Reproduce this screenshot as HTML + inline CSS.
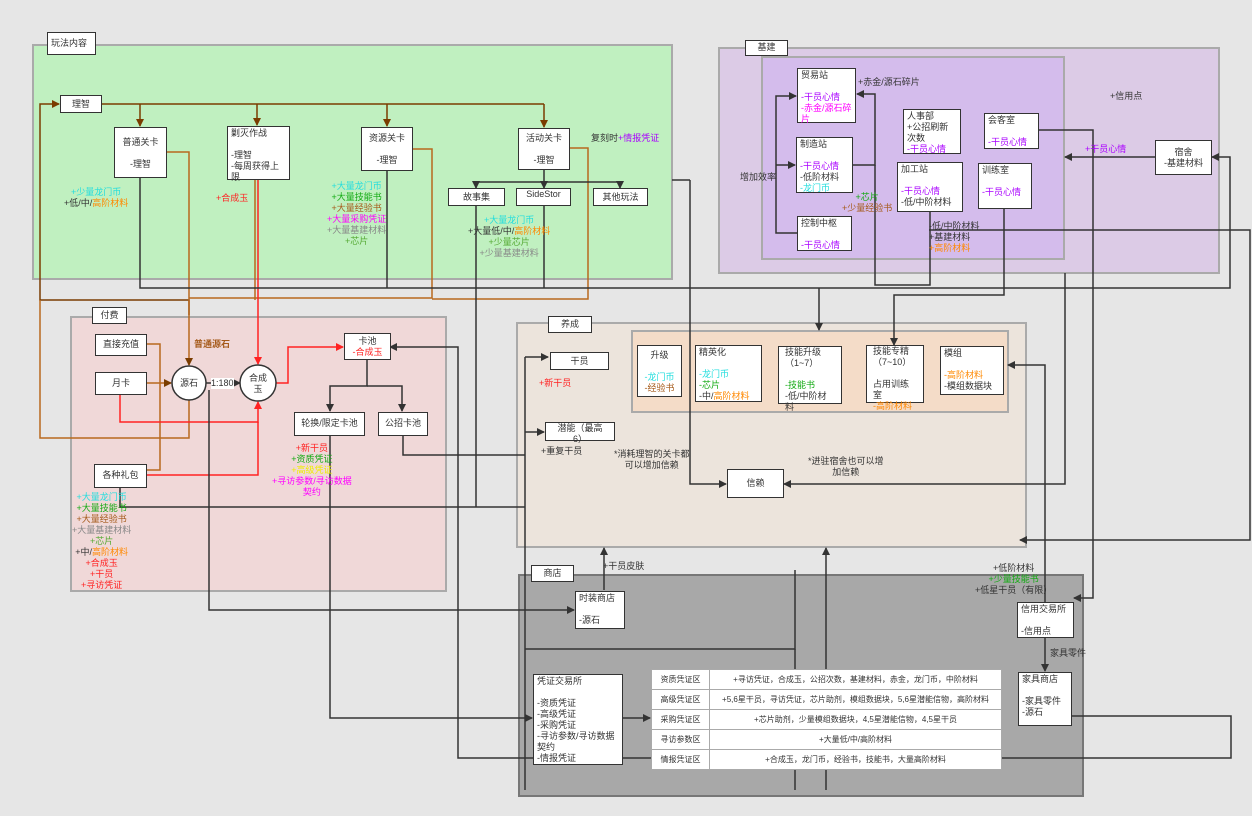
<!DOCTYPE html>
<html><head><meta charset="utf-8"><style>
body{margin:0;width:1252px;height:816px;background:#e6e6e6;position:relative;overflow:hidden;font-family:"Liberation Sans","Noto Sans CJK SC",sans-serif;font-size:9px;color:#333}
.r{position:absolute;border:2px solid #aaa;box-sizing:border-box}
.b{position:absolute;background:#fff;border:1.5px solid #333;box-sizing:border-box;padding:1px 3px;line-height:11px;font-size:9px}
.c{text-align:center}
.t{position:absolute;line-height:11px;font-size:9px;white-space:nowrap}
.cy{color:#2dd}.or{color:#f80}.gr{color:#1a1}.br{color:#a55a1a}.pu{color:#a0f}.pk{color:#f0f}.rd{color:#f22}.gy{color:#888}.yl{color:#ee0}.ol{color:#5a3}
svg{position:absolute;left:0;top:0}
table{position:absolute;left:651px;top:669px;width:351px;border-collapse:collapse;background:#fff}
td{border:1px solid #aaa;height:19px;padding:0;font-size:8px;text-align:center}
</style></head><body>
<div class="r" style="left:32px;top:44px;width:641px;height:236px;background:#c0f0c0"></div>
<div class="r" style="left:718px;top:47px;width:502px;height:227px;background:#dccbe6"></div>
<div class="r" style="left:761px;top:56px;width:304px;height:204px;background:#d4bcec"></div>
<div class="r" style="left:70px;top:316px;width:377px;height:276px;background:#f0d8d8"></div>
<div class="r" style="left:516px;top:322px;width:511px;height:226px;background:#ece4dc"></div>
<div class="r" style="left:631px;top:330px;width:378px;height:83px;background:#f4dcc8"></div>
<div class="r" style="left:518px;top:574px;width:566px;height:223px;background:#a8a8a8;border-color:#777"></div>

<svg width="1252" height="816" fill="none" stroke-width="1.5">
<defs>
<marker id="a" markerWidth="8" markerHeight="8" refX="7" refY="4" orient="auto" markerUnits="userSpaceOnUse"><path d="M0,0L8,4L0,8z" fill="#333"/></marker>
<marker id="ab" markerWidth="8" markerHeight="8" refX="7" refY="4" orient="auto" markerUnits="userSpaceOnUse"><path d="M0,0L8,4L0,8z" fill="#7a3c00"/></marker>
<marker id="ar" markerWidth="8" markerHeight="8" refX="7" refY="4" orient="auto" markerUnits="userSpaceOnUse"><path d="M0,0L8,4L0,8z" fill="#f22"/></marker>
</defs>
<g stroke="#7a3c00">
<path d="M101,104H544" /><path d="M140,104V126" marker-end="url(#ab)"/><path d="M257,104V125" marker-end="url(#ab)"/><path d="M387,104V126" marker-end="url(#ab)"/><path d="M544,104V127" marker-end="url(#ab)"/>
<path d="M189,315V300H40V104H59" marker-end="url(#ab)"/>
</g>
<g stroke="#b8691e">
<path d="M166,152H189V365" marker-end="url(#ab)"/><path d="M289,152H255V300"/><path d="M413,149H432V298H189"/><path d="M569,148H588V299H432"/>
<path d="M40,300V438H189V400"/><path d="M146,344H160V470H146"/><path d="M146,383H171" marker-end="url(#ab)"/>
</g>
<g stroke="#f22">
<path d="M258,179V364" marker-end="url(#ar)"/><path d="M276,383H288V347H343" marker-end="url(#ar)"/>
<path d="M120,394V422H258V402" marker-end="url(#ar)"/><path d="M146,475H258V422"/>
</g>
<g stroke="#333">
<path d="M206,383H240" marker-end="url(#a)"/>
<path d="M367,359V386H330V411" marker-end="url(#a)"/><path d="M367,386H402V411" marker-end="url(#a)"/>
<path d="M140,177V288H1230V157H1212" marker-end="url(#a)"/><path d="M387,170V288"/><path d="M544,169V182H476V188" marker-end="url(#a)"/><path d="M544,182H620V188" marker-end="url(#a)"/><path d="M544,182V188" marker-end="url(#a)"/>
<path d="M476,205V507M544,205V288"/>
<path d="M120,487V507H525"/>
<path d="M1045,725V716H1231V758H458V347H390" marker-end="url(#a)"/>
<path d="M209,390V610H574" marker-end="url(#a)"/>
<path d="M330,435V718H532" marker-end="url(#a)"/><path d="M622,718H650" marker-end="url(#a)"/>
<path d="M403,435V455H525"/>
<path d="M690,180H672"/><path d="M690,180V484H726" marker-end="url(#a)"/>
<path d="M1065,273V484H784" marker-end="url(#a)"/>
<path d="M819,288V330" marker-end="url(#a)"/>
<path d="M875,165V285H930V211"/>
<path d="M1004,208V295H894V345" marker-end="url(#a)"/>
<path d="M1028,130H1093V598H1074" marker-end="url(#a)"/>
<path d="M1045,602V365H1008" marker-end="url(#a)"/>
<path d="M1155,157H1065" marker-end="url(#a)"/>
<path d="M852,165H875V94H857" marker-end="url(#a)"/>
<path d="M797,233H776V96H796" marker-end="url(#a)"/><path d="M776,165H795" marker-end="url(#a)"/>
<path d="M929,230H1250V540H1020" marker-end="url(#a)"/>
<path d="M1045,637V671" marker-end="url(#a)"/>
<path d="M604,590V548" marker-end="url(#a)"/>
<path d="M525,357V790"/><path d="M525,357H548" marker-end="url(#a)"/><path d="M525,432H544" marker-end="url(#a)"/>
<path d="M525,649H795V570"/><path d="M795,649V790"/>
<path d="M826,790V548" marker-end="url(#a)"/>
</g>
<circle cx="189" cy="383" r="17" fill="#fff" stroke="#333"/>
<circle cx="258" cy="383" r="18" fill="#fff" stroke="#333"/>
</svg>

<div class="b" style="left:47px;top:32px;width:49px;height:23px;padding-top:5px">玩法内容</div>
<div class="b c" style="left:60px;top:95px;width:42px;height:18px;padding-top:3px">理智</div>
<div class="b c" style="left:114px;top:127px;width:53px;height:51px;padding-top:9px">普通关卡<br><br>-理智</div>
<div class="b" style="left:227px;top:126px;width:63px;height:54px">剿灭作战<br><br>-理智<br>-每周获得上限</div>
<div class="b c" style="left:361px;top:127px;width:52px;height:44px;padding-top:5px">资源关卡<br><br>-理智</div>
<div class="b c" style="left:518px;top:128px;width:52px;height:42px;padding-top:4px">活动关卡<br><br>-理智</div>
<div class="b c" style="left:448px;top:188px;width:57px;height:18px;padding-top:3px">故事集</div>
<div class="b c" style="left:516px;top:188px;width:55px;height:18px;padding:0">SideStor</div>
<div class="b c" style="left:593px;top:188px;width:55px;height:18px;padding-top:3px">其他玩法</div>
<div class="t c" style="left:64px;top:187px"><span class="cy">+少量龙门币</span><br>+低/中/<span class="or">高阶材料</span></div>
<div class="t rd" style="left:216px;top:193px">+合成玉</div>
<div class="t c" style="left:327px;top:181px"><span class="cy">+大量龙门币</span><br><span class="gr">+大量技能书</span><br><span class="br">+大量经验书</span><br><span class="pk">+大量采购凭证</span><br><span class="gy">+大量基建材料</span><br><span class="ol">+芯片</span></div>
<div class="t c" style="left:468px;top:215px"><span class="cy">+大量龙门币</span><br>+大量低/中/<span class="or">高阶材料</span><br><span class="ol">+少量芯片</span><br><span class="gy">+少量基建材料</span></div>
<div class="t" style="left:591px;top:133px">复刻时<span class="pu">+情报凭证</span></div>

<div class="b c" style="left:745px;top:40px;width:43px;height:16px;padding:1px">基建</div>
<div class="b" style="left:797px;top:68px;width:59px;height:55px">贸易站<br><br><span class="pu">-干员心情</span><br><span class="pk">-赤金/源石碎片</span></div>
<div class="b" style="left:796px;top:137px;width:57px;height:56px">制造站<br><br><span class="pu">-干员心情</span><br>-低阶材料<br><span class="cy">-龙门币</span></div>
<div class="b" style="left:797px;top:216px;width:55px;height:35px">控制中枢<br><br><span class="pu">-干员心情</span></div>
<div class="b" style="left:903px;top:109px;width:58px;height:45px">人事部<br>+公招刷新次数<br><span class="pu">-干员心情</span></div>
<div class="b" style="left:984px;top:113px;width:55px;height:36px">会客室<br><br><span class="pu">-干员心情</span></div>
<div class="b" style="left:897px;top:162px;width:66px;height:50px">加工站<br><br><span class="pu">-干员心情</span><br>-低/中阶材料</div>
<div class="b" style="left:978px;top:163px;width:54px;height:46px">训练室<br><br><span class="pu">-干员心情</span></div>
<div class="b c" style="left:1155px;top:140px;width:57px;height:35px;padding-top:6px">宿舍<br>-基建材料</div>
<div class="t" style="left:858px;top:77px">+赤金/源石碎片</div>
<div class="t" style="left:1110px;top:91px">+信用点</div>
<div class="t pu" style="left:1085px;top:144px">+干员心情</div>
<div class="t" style="left:740px;top:172px">增加效率</div>
<div class="t c" style="left:842px;top:192px"><span class="gr">+芯片</span><br><span class="br">+少量经验书</span></div>
<div class="t" style="left:929px;top:221px">-低/中阶材料<br>+基建材料<br><span class="or">+高阶材料</span></div>

<div class="b c" style="left:92px;top:307px;width:35px;height:17px;padding:2px">付费</div>
<div class="b c" style="left:95px;top:334px;width:52px;height:22px;padding-top:4px">直接充值</div>
<div class="b c" style="left:95px;top:372px;width:52px;height:23px;padding-top:5px">月卡</div>
<div class="t c" style="left:172px;top:378px;width:34px">源石</div>
<div class="t c" style="left:240px;top:373px;width:36px">合成<br>玉</div>
<div class="t" style="left:211px;top:378px;background:#fff">1:180</div>
<div class="t br" style="left:194px;top:339px;font-weight:bold">普通源石</div>
<div class="b c" style="left:344px;top:333px;width:47px;height:27px;padding-top:2px">卡池<br><span class="rd">-合成玉</span></div>
<div class="b c" style="left:294px;top:412px;width:71px;height:24px;padding-top:5px">轮换/限定卡池</div>
<div class="b c" style="left:378px;top:412px;width:50px;height:24px;padding-top:5px">公招卡池</div>
<div class="b c" style="left:94px;top:464px;width:53px;height:24px;padding-top:5px">各种礼包</div>
<div class="t c" style="left:272px;top:443px"><span class="rd">+新干员</span><br><span class="gr">+资质凭证</span><br><span class="yl">+高级凭证</span><br><span class="pk">+寻访参数/寻访数据<br>契约</span></div>
<div class="t c" style="left:72px;top:492px"><span class="cy">+大量龙门币</span><br><span class="gr">+大量技能书</span><br><span class="br">+大量经验书</span><br><span class="gy">+大量基建材料</span><br><span class="ol">+芯片</span><br>+中/<span class="or">高阶材料</span><br><span class="rd">+合成玉<br>+干员<br>+寻访凭证</span></div>

<div class="b c" style="left:548px;top:316px;width:44px;height:17px;padding:2px">养成</div>
<div class="b c" style="left:550px;top:352px;width:59px;height:18px;padding-top:3px">干员</div>
<div class="t rd" style="left:539px;top:378px">+新干员</div>
<div class="b c" style="left:545px;top:422px;width:70px;height:19px;padding:0">潜能（最高<br>6）</div>
<div class="t" style="left:541px;top:446px">+重复干员</div>
<div class="t c" style="left:614px;top:449px">*消耗理智的关卡都<br>可以增加信赖</div>
<div class="t c" style="left:808px;top:456px">*进驻宿舍也可以增<br>加信赖</div>
<div class="b c" style="left:727px;top:469px;width:57px;height:29px;padding-top:8px">信赖</div>
<div class="b c" style="left:637px;top:345px;width:45px;height:52px;padding-top:4px">升级<br><br><span class="cy">-龙门币</span><br><span class="br">-经验书</span></div>
<div class="b" style="left:695px;top:345px;width:67px;height:57px">精英化<br><br><span class="cy">-龙门币</span><br><span class="gr">-芯片</span><br>-中/<span class="or">高阶材料</span></div>
<div class="b" style="left:778px;top:346px;width:64px;height:58px;padding:0 6px">技能升级<br>（1~7）<br><br><span class="gr">-技能书</span><br>-低/中阶材料</div>
<div class="b" style="left:866px;top:345px;width:58px;height:58px;padding:0 6px">技能专精<br>（7~10）<br><br>占用训练室<br><span class="or">-高阶材料</span></div>
<div class="b" style="left:940px;top:346px;width:64px;height:49px">模组<br><br><span class="or">-高阶材料</span><br>-模组数据块</div>

<div class="b c" style="left:531px;top:565px;width:43px;height:17px;padding:2px">商店</div>
<div class="t" style="left:603px;top:561px">+干员皮肤</div>
<div class="b" style="left:575px;top:591px;width:50px;height:38px">时装商店<br><br>-源石</div>
<div class="b" style="left:533px;top:674px;width:90px;height:91px">凭证交易所<br><br>-资质凭证<br>-高级凭证<br>-采购凭证<br>-寻访参数/寻访数据契约<br>-情报凭证</div>
<div class="t c" style="left:975px;top:563px">+低阶材料<br><span class="gr">+少量技能书</span><br>+低星干员（有限）</div>
<div class="b" style="left:1017px;top:602px;width:57px;height:36px">信用交易所<br><br>-信用点</div>
<div class="t" style="left:1050px;top:648px">家具零件</div>
<div class="b" style="left:1018px;top:672px;width:54px;height:54px">家具商店<br><br>-家具零件<br>-源石</div>
<table>
<tr><td style="width:57px">资质凭证区</td><td>+寻访凭证，合成玉，公招次数，基建材料，赤金，龙门币，中阶材料</td></tr>
<tr><td>高级凭证区</td><td>+5,6星干员，寻访凭证，芯片助剂，模组数据块，5,6星潜能信物，高阶材料</td></tr>
<tr><td>采购凭证区</td><td>+芯片助剂，少量模组数据块，4,5星潜能信物，4,5星干员</td></tr>
<tr><td>寻访参数区</td><td>+大量低/中/高阶材料</td></tr>
<tr><td>情报凭证区</td><td>+合成玉，龙门币，经验书，技能书，大量高阶材料</td></tr>
</table>
</body></html>
